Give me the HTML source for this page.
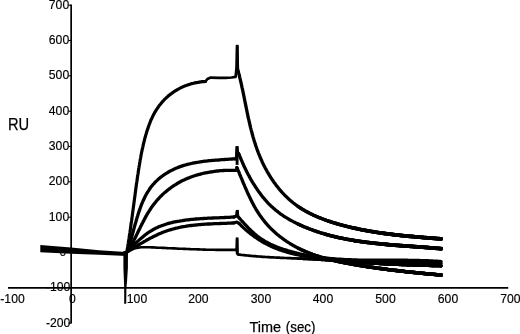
<!DOCTYPE html><html><head><meta charset="utf-8"><title>Sensorgram</title>
<style>html,body{margin:0;padding:0;background:#fff}svg{display:block}text{font-family:"Liberation Sans",sans-serif;fill:#000;stroke:#000;stroke-width:0.15px}</style></head><body>
<svg width="520" height="334" viewBox="0 0 520 334">
<rect width="520" height="334" fill="#fff"/>
<g>
<g stroke="#000" stroke-width="1.7" fill="none">
<path d="M71.15 4.4V323.6"/>
<path d="M8 287.9H508.2"/>
</g>
<g stroke="#000" stroke-width="1.1">
<path d="M68.5 323.2H71.2"/>
<path d="M68.5 287.8H71.2"/>
<path d="M68.5 252.5H71.2"/>
<path d="M68.5 217.2H71.2"/>
<path d="M68.5 181.8H71.2"/>
<path d="M68.5 146.5H71.2"/>
<path d="M68.5 111.2H71.2"/>
<path d="M68.5 75.8H71.2"/>
<path d="M68.5 40.5H71.2"/>
<path d="M68.5 5.2H71.2"/>
</g>
<g font-size="12.2" text-anchor="end">
<text x="70.3" y="326.7">-200</text>
<text x="70.3" y="291.3">-100</text>
<text x="66.3" y="256.0" font-size="12">0</text>
<text x="69.2" y="220.7">100</text>
<text x="69.2" y="185.3">200</text>
<text x="69.2" y="150.0">300</text>
<text x="69.2" y="114.7">400</text>
<text x="69.2" y="79.3">500</text>
<text x="69.2" y="44.0">600</text>
<text x="69.2" y="8.7">700</text>
</g>
<g font-size="12.2" text-anchor="middle">
<text x="12.5" y="303.2">-100</text>
<text x="72.3" y="303.2">0</text>
<text x="137" y="303.2">100</text>
<text x="198.3" y="303.2">200</text>
<text x="261" y="303.2">300</text>
<text x="323" y="303.2">400</text>
<text x="385.5" y="303.2">500</text>
<text x="448" y="303.2">600</text>
<text x="510.3" y="303.2">700</text>
</g>
<text x="8.0" y="129.6" font-size="17.4" textLength="21.2" lengthAdjust="spacingAndGlyphs" style="stroke-width:0.25px">RU</text>
<text y="331.8" font-size="15" style="stroke-width:0.25px"><tspan x="249.5" textLength="31.6" lengthAdjust="spacingAndGlyphs">Time</tspan> <tspan x="285.8" textLength="29.6" lengthAdjust="spacingAndGlyphs">(sec)</tspan></text>
<g stroke="#000" fill="none" stroke-linejoin="round" stroke-linecap="round">
<path stroke-width="3.2" d="M126.8 252.2L127.1 250.7L127.3 249.2L127.5 247.7L127.8 246.2L128.0 244.7L128.3 243.2L128.5 241.7L128.7 240.2L129.0 238.7L129.2 237.2L129.4 235.7L129.6 234.2L129.9 232.7L130.1 231.2L130.3 229.7L130.5 228.2L130.7 226.7L130.9 225.2L131.1 223.7L131.3 222.2L131.6 220.7L131.8 219.2L132.0 217.6L132.2 216.1L132.4 214.6L132.6 213.1L132.8 211.6L133.0 210.1L133.2 208.6L133.4 207.1L133.6 205.6L133.8 204.1L134.0 202.6L134.2 201.1L134.4 199.6L134.6 198.1L134.8 196.6L135.0 195.1L135.2 193.6L135.4 192.0L135.6 190.5L135.8 189.0L136.0 187.5L136.2 186.0L136.4 184.5L136.6 183.0L136.9 181.5L137.1 180.0L137.3 178.5L137.5 177.0L137.7 175.5L138.0 174.0L138.2 172.5L138.4 171.0L138.6 169.5L138.9 168.0L139.1 166.5L139.4 165.0L139.6 163.5L139.9 162.0L140.1 160.5L140.4 159.0L140.7 157.5L140.9 156.0L141.2 154.5L141.5 153.0L141.8 151.5L142.1 150.1L142.4 148.6L142.8 147.1L143.1 145.6L143.4 144.1L143.8 142.6L144.2 141.2L144.5 139.7L144.9 138.2L145.3 136.8L145.7 135.3L146.2 133.8L146.6 132.4L147.0 130.9L147.5 129.5L148.0 128.1L148.5 126.6L149.0 125.2L149.5 123.8L150.1 122.3L150.6 120.9L151.2 119.5L151.9 118.2L152.5 116.8L153.2 115.4L153.9 114.1L154.6 112.7L155.4 111.4L156.2 110.1L157.0 108.9L157.9 107.6L158.7 106.4L159.6 105.1L160.6 104.0L161.6 102.8L162.6 101.6L163.6 100.5L164.6 99.4L165.7 98.4L166.8 97.3L168.0 96.3L169.1 95.3L170.3 94.4L171.5 93.5L172.7 92.6L174.0 91.7L175.3 90.9L176.6 90.1L177.9 89.3L179.2 88.6L180.6 87.9L181.9 87.2L183.3 86.6L184.7 86.0L186.1 85.5L187.6 85.0L189.0 84.5L190.5 84.1L191.9 83.6L193.4 83.3L194.9 82.9L196.4 82.6L197.9 82.4L199.4 82.1L200.9 81.9L202.4 81.7L203.9 81.6L205.4 81.5"/>
<path stroke-width="2.7" d="M205.4 81.5L207.4 79.0L210.8 77.6L219.0 77.9L225.3 77.9L231.6 77.5L235.6 76.8L236.6 67.5L237.2 46.6L237.8 68.0L238.2 71.3"/>
<path stroke-width="3.3" d="M238.2 71.3L238.5 72.3L238.7 73.2L239.0 74.2L239.2 75.2L239.5 76.2L239.7 77.1L239.9 78.1L240.2 79.1L240.4 80.1L240.6 81.0L240.8 82.0L241.1 83.0L241.3 84.0L241.5 85.0L241.7 85.9L241.9 86.9L242.1 87.9L242.4 88.9L242.6 89.9L242.8 90.8L243.0 91.8L243.2 92.8L243.4 93.8L243.6 94.8L243.8 95.8L244.0 96.7L244.2 97.7L244.4 98.7L244.6 99.7L244.8 100.7L245.0 101.7L245.2 102.6L245.4 103.6L245.6 104.6L245.8 105.6L246.0 106.6L246.2 107.6L246.4 108.5L246.6 109.5L246.8 110.5L247.0 111.5L247.2 112.5L247.4 113.5L247.6 114.4L247.8 115.4L248.0 116.4L248.2 117.4L248.4 118.4L248.7 119.3L248.9 120.3L249.1 121.3L249.3 122.3L249.6 123.3L249.8 124.2L250.0 125.2L250.2 126.2L250.5 127.2L250.7 128.1L251.0 129.1L251.2 130.1L251.5 131.1L251.7 132.0L252.0 133.0L252.2 134.0L252.5 134.9L252.8 135.9L253.0 136.9L253.3 137.8L253.6 138.8L253.9 139.8L254.2 140.7L254.5 141.7L254.8 142.6L255.1 143.6L255.4 144.5L255.7 145.5L256.0 146.4L256.4 147.4L256.7 148.3L257.0 149.3L257.4 150.2L257.7 151.2L258.1 152.1L258.4 153.0L258.8 154.0L259.2 154.9L259.6 155.8L260.0 156.8L260.3 157.7L260.7 158.6L261.2 159.5L261.6 160.4L262.0 161.3L262.4 162.3L262.8 163.2L263.3 164.1L263.7 165.0L264.2 165.9L264.6 166.8L265.1 167.7L265.5 168.5L266.0 169.4L266.5 170.3L267.0 171.2L267.5 172.1L268.0 172.9L268.5 173.8L269.0 174.7L269.5 175.5L270.1 176.4L270.6 177.2L271.1 178.1L271.7 178.9L272.2 179.7L272.8 180.6L273.4 181.4L273.9 182.2L274.5 183.0L275.1 183.8L275.7 184.6L276.3 185.4L276.9 186.2L277.6 187.0L278.2 187.8L278.8 188.6L279.5 189.4L280.1 190.1L280.8 190.9L281.4 191.6L282.1 192.4L282.8 193.1L283.5 193.9L284.2 194.6L284.9 195.3L285.6 196.0L286.3 196.7L287.0 197.4L287.7 198.1L288.5 198.8L289.2 199.5L290.0 200.1L290.7 200.8L291.5 201.4L292.3 202.1L293.0 202.7L293.8 203.3L294.6 203.9L295.4 204.5L296.2 205.1L297.0 205.7L297.9 206.3L298.7 206.9L299.5 207.4L300.4 208.0L301.2 208.5L302.1 209.0L302.9 209.6L303.8 210.1L304.7 210.6L305.5 211.1L306.4 211.6L307.3 212.0L308.2 212.5L309.1 213.0L310.0 213.4L310.9 213.9L311.8 214.3L312.7 214.7L313.6 215.2L314.5 215.6L315.4 216.0L316.3 216.4L317.3 216.8L318.2 217.2L319.1 217.6L320.0 217.9L321.0 218.3L321.9 218.7L322.8 219.0L323.8 219.4L324.7 219.7L325.7 220.1L326.6 220.4L327.6 220.7L328.5 221.1L329.5 221.4L330.4 221.7L331.4 222.0L332.3 222.3L333.3 222.6L334.2 222.9L335.2 223.2L336.2 223.5L337.1 223.8L338.1 224.1L339.0 224.3L340.0 224.6L341.0 224.9L342.0 225.1L342.9 225.4L343.9 225.6L344.9 225.9L345.8 226.1L346.8 226.4L347.8 226.6L348.8 226.9L349.7 227.1L350.7 227.3L351.7 227.6L352.7 227.8L353.6 228.0L354.6 228.2L355.6 228.4L356.6 228.6L357.6 228.8L358.6 229.1L359.5 229.3L360.5 229.5L361.5 229.7L362.5 229.8L363.5 230.0L364.5 230.2L365.4 230.4L366.4 230.6L367.4 230.8L368.4 230.9L369.4 231.1L370.4 231.3L371.4 231.5L372.4 231.6L373.4 231.8L374.3 231.9L375.3 232.1L376.3 232.3L377.3 232.4L378.3 232.6L379.3 232.7L380.3 232.9L381.3 233.0L382.3 233.1L383.3 233.3L384.3 233.4L385.3 233.6L386.3 233.7L387.3 233.8L388.2 233.9L389.2 234.1L390.2 234.2L391.2 234.3L392.2 234.4L393.2 234.6L394.2 234.7L395.2 234.8L396.2 234.9L397.2 235.0L398.2 235.1L399.2 235.2L400.2 235.4L401.2 235.5L402.2 235.6L403.2 235.7L404.2 235.8L405.2 235.9L406.2 236.0L407.2 236.1L408.2 236.2L409.2 236.3L410.2 236.4L411.2 236.4L412.2 236.5L413.2 236.6L414.2 236.7L415.2 236.8L416.2 236.9L417.2 237.0L418.2 237.1L419.2 237.2L420.2 237.2L421.2 237.3L422.2 237.4L423.2 237.5L424.2 237.6L425.2 237.7L426.2 237.7L427.2 237.8L428.2 237.9L429.2 238.0L430.2 238.0L431.2 238.1L432.2 238.2L433.2 238.3L434.2 238.4L435.2 238.4L436.2 238.5L437.2 238.6L438.2 238.7L439.2 238.7L440.2 238.8L441.2 238.9"/>
<path stroke-width="3.42" d="M297.9 206.3L298.7 206.9L299.5 207.4L300.4 208.0L301.2 208.5L302.1 209.0L302.9 209.6L303.8 210.1L304.7 210.6L305.5 211.1L306.4 211.6L307.3 212.0L308.2 212.5L309.1 213.0L310.0 213.4L310.9 213.9L311.8 214.3L312.7 214.7L313.6 215.2L314.5 215.6L315.4 216.0L316.3 216.4L317.3 216.8L318.2 217.2L319.1 217.6L320.0 217.9L321.0 218.3L321.9 218.7L322.8 219.0L323.8 219.4L324.7 219.7L325.7 220.1L326.6 220.4L327.6 220.7L328.5 221.1L329.5 221.4L330.4 221.7L331.4 222.0L332.3 222.3L333.3 222.6L334.2 222.9L335.2 223.2L336.2 223.5L337.1 223.8L338.1 224.1L339.0 224.3L340.0 224.6L341.0 224.9L342.0 225.1L342.9 225.4L343.9 225.6L344.9 225.9L345.8 226.1L346.8 226.4L347.8 226.6L348.8 226.9L349.7 227.1L350.7 227.3L351.7 227.6L352.7 227.8L353.6 228.0L354.6 228.2L355.6 228.4L356.6 228.6L357.6 228.8L358.6 229.1L359.5 229.3L360.5 229.5L361.5 229.7L362.5 229.8L363.5 230.0L364.5 230.2L365.4 230.4L366.4 230.6L367.4 230.8L368.4 230.9L369.4 231.1L370.4 231.3L371.4 231.5L372.4 231.6L373.4 231.8L374.3 231.9L375.3 232.1L376.3 232.3L377.3 232.4L378.3 232.6L379.3 232.7L380.3 232.9L381.3 233.0L382.3 233.1L383.3 233.3L384.3 233.4L385.3 233.6L386.3 233.7L387.3 233.8L388.2 233.9L389.2 234.1L390.2 234.2L391.2 234.3L392.2 234.4L393.2 234.6L394.2 234.7L395.2 234.8L396.2 234.9L397.2 235.0L398.2 235.1L399.2 235.2L400.2 235.4L401.2 235.5L402.2 235.6L403.2 235.7L404.2 235.8L405.2 235.9L406.2 236.0L407.2 236.1L408.2 236.2L409.2 236.3L410.2 236.4L411.2 236.4L412.2 236.5L413.2 236.6L414.2 236.7L415.2 236.8L416.2 236.9L417.2 237.0L418.2 237.1L419.2 237.2L420.2 237.2L421.2 237.3L422.2 237.4L423.2 237.5L424.2 237.6L425.2 237.7L426.2 237.7L427.2 237.8L428.2 237.9L429.2 238.0L430.2 238.0L431.2 238.1L432.2 238.2L433.2 238.3L434.2 238.4L435.2 238.4L436.2 238.5L437.2 238.6L438.2 238.7L439.2 238.7L440.2 238.8L441.2 238.9"/>
<path stroke-width="3.55" d="M325.7 220.1L326.6 220.4L327.6 220.7L328.5 221.1L329.5 221.4L330.4 221.7L331.4 222.0L332.3 222.3L333.3 222.6L334.2 222.9L335.2 223.2L336.2 223.5L337.1 223.8L338.1 224.1L339.0 224.3L340.0 224.6L341.0 224.9L342.0 225.1L342.9 225.4L343.9 225.6L344.9 225.9L345.8 226.1L346.8 226.4L347.8 226.6L348.8 226.9L349.7 227.1L350.7 227.3L351.7 227.6L352.7 227.8L353.6 228.0L354.6 228.2L355.6 228.4L356.6 228.6L357.6 228.8L358.6 229.1L359.5 229.3L360.5 229.5L361.5 229.7L362.5 229.8L363.5 230.0L364.5 230.2L365.4 230.4L366.4 230.6L367.4 230.8L368.4 230.9L369.4 231.1L370.4 231.3L371.4 231.5L372.4 231.6L373.4 231.8L374.3 231.9L375.3 232.1L376.3 232.3L377.3 232.4L378.3 232.6L379.3 232.7L380.3 232.9L381.3 233.0L382.3 233.1L383.3 233.3L384.3 233.4L385.3 233.6L386.3 233.7L387.3 233.8L388.2 233.9L389.2 234.1L390.2 234.2L391.2 234.3L392.2 234.4L393.2 234.6L394.2 234.7L395.2 234.8L396.2 234.9L397.2 235.0L398.2 235.1L399.2 235.2L400.2 235.4L401.2 235.5L402.2 235.6L403.2 235.7L404.2 235.8L405.2 235.9L406.2 236.0L407.2 236.1L408.2 236.2L409.2 236.3L410.2 236.4L411.2 236.4L412.2 236.5L413.2 236.6L414.2 236.7L415.2 236.8L416.2 236.9L417.2 237.0L418.2 237.1L419.2 237.2L420.2 237.2L421.2 237.3L422.2 237.4L423.2 237.5L424.2 237.6L425.2 237.7L426.2 237.7L427.2 237.8L428.2 237.9L429.2 238.0L430.2 238.0L431.2 238.1L432.2 238.2L433.2 238.3L434.2 238.4L435.2 238.4L436.2 238.5L437.2 238.6L438.2 238.7L439.2 238.7L440.2 238.8L441.2 238.9"/>
<path stroke-width="3.67" d="M352.7 227.8L353.6 228.0L354.6 228.2L355.6 228.4L356.6 228.6L357.6 228.8L358.6 229.1L359.5 229.3L360.5 229.5L361.5 229.7L362.5 229.8L363.5 230.0L364.5 230.2L365.4 230.4L366.4 230.6L367.4 230.8L368.4 230.9L369.4 231.1L370.4 231.3L371.4 231.5L372.4 231.6L373.4 231.8L374.3 231.9L375.3 232.1L376.3 232.3L377.3 232.4L378.3 232.6L379.3 232.7L380.3 232.9L381.3 233.0L382.3 233.1L383.3 233.3L384.3 233.4L385.3 233.6L386.3 233.7L387.3 233.8L388.2 233.9L389.2 234.1L390.2 234.2L391.2 234.3L392.2 234.4L393.2 234.6L394.2 234.7L395.2 234.8L396.2 234.9L397.2 235.0L398.2 235.1L399.2 235.2L400.2 235.4L401.2 235.5L402.2 235.6L403.2 235.7L404.2 235.8L405.2 235.9L406.2 236.0L407.2 236.1L408.2 236.2L409.2 236.3L410.2 236.4L411.2 236.4L412.2 236.5L413.2 236.6L414.2 236.7L415.2 236.8L416.2 236.9L417.2 237.0L418.2 237.1L419.2 237.2L420.2 237.2L421.2 237.3L422.2 237.4L423.2 237.5L424.2 237.6L425.2 237.7L426.2 237.7L427.2 237.8L428.2 237.9L429.2 238.0L430.2 238.0L431.2 238.1L432.2 238.2L433.2 238.3L434.2 238.4L435.2 238.4L436.2 238.5L437.2 238.6L438.2 238.7L439.2 238.7L440.2 238.8L441.2 238.9"/>
<path stroke-width="3.80" d="M380.3 232.9L381.3 233.0L382.3 233.1L383.3 233.3L384.3 233.4L385.3 233.6L386.3 233.7L387.3 233.8L388.2 233.9L389.2 234.1L390.2 234.2L391.2 234.3L392.2 234.4L393.2 234.6L394.2 234.7L395.2 234.8L396.2 234.9L397.2 235.0L398.2 235.1L399.2 235.2L400.2 235.4L401.2 235.5L402.2 235.6L403.2 235.7L404.2 235.8L405.2 235.9L406.2 236.0L407.2 236.1L408.2 236.2L409.2 236.3L410.2 236.4L411.2 236.4L412.2 236.5L413.2 236.6L414.2 236.7L415.2 236.8L416.2 236.9L417.2 237.0L418.2 237.1L419.2 237.2L420.2 237.2L421.2 237.3L422.2 237.4L423.2 237.5L424.2 237.6L425.2 237.7L426.2 237.7L427.2 237.8L428.2 237.9L429.2 238.0L430.2 238.0L431.2 238.1L432.2 238.2L433.2 238.3L434.2 238.4L435.2 238.4L436.2 238.5L437.2 238.6L438.2 238.7L439.2 238.7L440.2 238.8L441.2 238.9"/>
<path stroke-width="3.3" d="M126.8 252.2L127.3 250.8L127.9 249.3L128.4 247.9L128.9 246.5L129.3 245.0L129.8 243.6L130.2 242.1L130.7 240.6L131.1 239.2L131.5 237.7L131.9 236.2L132.3 234.8L132.7 233.3L133.1 231.8L133.5 230.3L133.9 228.9L134.3 227.4L134.7 225.9L135.1 224.5L135.5 223.0L136.0 221.5L136.4 220.0L136.8 218.6L137.2 217.1L137.7 215.7L138.1 214.2L138.6 212.8L139.1 211.3L139.6 209.9L140.1 208.4L140.6 207.0L141.1 205.6L141.7 204.1L142.3 202.7L142.9 201.3L143.5 199.9L144.2 198.6L144.8 197.2L145.5 195.8L146.2 194.5L147.0 193.2L147.8 191.8L148.6 190.6L149.4 189.3L150.3 188.0L151.2 186.8L152.2 185.6L153.1 184.4L154.2 183.3L155.2 182.2L156.3 181.1L157.4 180.1L158.5 179.0L159.7 178.1L160.9 177.1L162.1 176.2L163.3 175.3L164.6 174.4L165.9 173.6L167.2 172.8L168.5 172.0L169.8 171.3L171.2 170.6L172.5 169.9L173.9 169.2L175.3 168.6L176.7 168.0L178.1 167.4L179.5 166.9L181.0 166.4L182.4 165.9L183.9 165.4L185.3 165.0L186.8 164.6L188.3 164.2L189.8 163.9L191.3 163.5L192.7 163.2L194.2 162.9L195.7 162.6L197.2 162.3L198.7 162.1L200.3 161.8L201.8 161.6L203.3 161.4L204.8 161.2L206.3 161.1L207.8 160.9L209.3 160.7L210.9 160.6L212.4 160.4L213.9 160.3L215.4 160.2L216.9 160.1L218.5 160.0L220.0 159.8L221.5 159.7L223.0 159.6L224.5 159.5L226.1 159.4L227.6 159.3L229.1 159.2L230.6 159.1L232.2 159.0L233.7 158.9L235.2 158.8"/>
<path stroke-width="3.1" d="M235.2 158.8L236.4 158.3L237.0 147.9L237.5 152.0L238.8 153.8"/>
<path stroke-width="3.3" d="M238.8 153.8L239.2 154.7L239.5 155.7L239.9 156.6L240.3 157.5L240.7 158.5L241.1 159.4L241.5 160.3L241.9 161.2L242.3 162.2L242.7 163.1L243.1 164.0L243.5 164.9L243.9 165.8L244.3 166.8L244.8 167.7L245.2 168.6L245.7 169.5L246.1 170.4L246.5 171.3L247.0 172.2L247.5 173.1L247.9 174.0L248.4 174.9L248.9 175.7L249.3 176.6L249.8 177.5L250.3 178.4L250.8 179.3L251.3 180.1L251.8 181.0L252.3 181.9L252.9 182.7L253.4 183.6L253.9 184.4L254.4 185.3L255.0 186.1L255.5 187.0L256.1 187.8L256.7 188.7L257.2 189.5L257.8 190.3L258.4 191.2L259.0 192.0L259.6 192.8L260.2 193.6L260.8 194.4L261.4 195.2L262.0 196.0L262.6 196.8L263.3 197.6L263.9 198.3L264.6 199.1L265.2 199.9L265.9 200.6L266.5 201.4L267.2 202.1L267.9 202.8L268.6 203.6L269.3 204.3L270.0 205.0L270.7 205.7L271.5 206.4L272.2 207.1L273.0 207.8L273.7 208.4L274.5 209.1L275.2 209.7L276.0 210.4L276.8 211.0L277.6 211.6L278.4 212.3L279.2 212.9L280.0 213.5L280.8 214.1L281.6 214.6L282.5 215.2L283.3 215.8L284.1 216.3L285.0 216.9L285.8 217.4L286.7 217.9L287.5 218.4L288.4 219.0L289.3 219.5L290.2 220.0L291.0 220.4L291.9 220.9L292.8 221.4L293.7 221.9L294.6 222.3L295.5 222.8L296.4 223.2L297.3 223.7L298.2 224.1L299.1 224.5L300.0 224.9L301.0 225.4L301.9 225.8L302.8 226.2L303.7 226.6L304.7 227.0L305.6 227.3L306.5 227.7L307.5 228.1L308.4 228.5L309.3 228.8L310.3 229.2L311.2 229.5L312.2 229.9L313.1 230.2L314.0 230.6L315.0 230.9L315.9 231.2L316.9 231.6L317.9 231.9L318.8 232.2L319.8 232.5L320.7 232.8L321.7 233.1L322.7 233.4L323.6 233.7L324.6 234.0L325.6 234.2L326.5 234.5L327.5 234.8L328.5 235.0L329.4 235.3L330.4 235.6L331.4 235.8L332.4 236.1L333.3 236.3L334.3 236.5L335.3 236.8L336.3 237.0L337.3 237.2L338.2 237.5L339.2 237.7L340.2 237.9L341.2 238.1L342.2 238.3L343.2 238.5L344.1 238.7L345.1 238.9L346.1 239.1L347.1 239.3L348.1 239.5L349.1 239.6L350.1 239.8L351.1 240.0L352.1 240.2L353.1 240.3L354.0 240.5L355.0 240.7L356.0 240.8L357.0 241.0L358.0 241.1L359.0 241.3L360.0 241.4L361.0 241.6L362.0 241.7L363.0 241.8L364.0 242.0L365.0 242.1L366.0 242.2L367.0 242.4L368.0 242.5L369.0 242.6L370.0 242.7L371.0 242.9L372.0 243.0L373.0 243.1L374.0 243.2L375.0 243.3L376.0 243.4L377.0 243.5L378.0 243.6L379.0 243.7L380.0 243.8L381.0 243.9L382.0 244.0L383.0 244.1L384.0 244.2L385.0 244.3L386.0 244.4L387.0 244.5L388.0 244.6L389.0 244.7L390.0 244.8L391.0 244.8L392.0 244.9L393.0 245.0L394.0 245.1L395.0 245.2L396.0 245.3L397.0 245.3L398.0 245.4L399.0 245.5L400.1 245.6L401.1 245.6L402.1 245.7L403.1 245.8L404.1 245.9L405.1 245.9L406.1 246.0L407.1 246.1L408.1 246.1L409.1 246.2L410.1 246.3L411.1 246.4L412.1 246.4L413.1 246.5L414.1 246.6L415.1 246.7L416.1 246.7L417.1 246.8L418.1 246.9L419.1 246.9L420.1 247.0L421.1 247.1L422.1 247.2L423.1 247.2L424.1 247.3L425.2 247.4L426.2 247.5L427.2 247.5L428.2 247.6L429.2 247.7L430.2 247.8L431.2 247.8L432.2 247.9L433.2 248.0L434.2 248.1L435.2 248.2L436.2 248.3L437.2 248.3L438.2 248.4L439.2 248.5L440.2 248.6L441.2 248.7"/>
<path stroke-width="3.42" d="M298.2 224.1L299.1 224.5L300.0 224.9L301.0 225.4L301.9 225.8L302.8 226.2L303.7 226.6L304.7 227.0L305.6 227.3L306.5 227.7L307.5 228.1L308.4 228.5L309.3 228.8L310.3 229.2L311.2 229.5L312.2 229.9L313.1 230.2L314.0 230.6L315.0 230.9L315.9 231.2L316.9 231.6L317.9 231.9L318.8 232.2L319.8 232.5L320.7 232.8L321.7 233.1L322.7 233.4L323.6 233.7L324.6 234.0L325.6 234.2L326.5 234.5L327.5 234.8L328.5 235.0L329.4 235.3L330.4 235.6L331.4 235.8L332.4 236.1L333.3 236.3L334.3 236.5L335.3 236.8L336.3 237.0L337.3 237.2L338.2 237.5L339.2 237.7L340.2 237.9L341.2 238.1L342.2 238.3L343.2 238.5L344.1 238.7L345.1 238.9L346.1 239.1L347.1 239.3L348.1 239.5L349.1 239.6L350.1 239.8L351.1 240.0L352.1 240.2L353.1 240.3L354.0 240.5L355.0 240.7L356.0 240.8L357.0 241.0L358.0 241.1L359.0 241.3L360.0 241.4L361.0 241.6L362.0 241.7L363.0 241.8L364.0 242.0L365.0 242.1L366.0 242.2L367.0 242.4L368.0 242.5L369.0 242.6L370.0 242.7L371.0 242.9L372.0 243.0L373.0 243.1L374.0 243.2L375.0 243.3L376.0 243.4L377.0 243.5L378.0 243.6L379.0 243.7L380.0 243.8L381.0 243.9L382.0 244.0L383.0 244.1L384.0 244.2L385.0 244.3L386.0 244.4L387.0 244.5L388.0 244.6L389.0 244.7L390.0 244.8L391.0 244.8L392.0 244.9L393.0 245.0L394.0 245.1L395.0 245.2L396.0 245.3L397.0 245.3L398.0 245.4L399.0 245.5L400.1 245.6L401.1 245.6L402.1 245.7L403.1 245.8L404.1 245.9L405.1 245.9L406.1 246.0L407.1 246.1L408.1 246.1L409.1 246.2L410.1 246.3L411.1 246.4L412.1 246.4L413.1 246.5L414.1 246.6L415.1 246.7L416.1 246.7L417.1 246.8L418.1 246.9L419.1 246.9L420.1 247.0L421.1 247.1L422.1 247.2L423.1 247.2L424.1 247.3L425.2 247.4L426.2 247.5L427.2 247.5L428.2 247.6L429.2 247.7L430.2 247.8L431.2 247.8L432.2 247.9L433.2 248.0L434.2 248.1L435.2 248.2L436.2 248.3L437.2 248.3L438.2 248.4L439.2 248.5L440.2 248.6L441.2 248.7"/>
<path stroke-width="3.55" d="M325.6 234.2L326.5 234.5L327.5 234.8L328.5 235.0L329.4 235.3L330.4 235.6L331.4 235.8L332.4 236.1L333.3 236.3L334.3 236.5L335.3 236.8L336.3 237.0L337.3 237.2L338.2 237.5L339.2 237.7L340.2 237.9L341.2 238.1L342.2 238.3L343.2 238.5L344.1 238.7L345.1 238.9L346.1 239.1L347.1 239.3L348.1 239.5L349.1 239.6L350.1 239.8L351.1 240.0L352.1 240.2L353.1 240.3L354.0 240.5L355.0 240.7L356.0 240.8L357.0 241.0L358.0 241.1L359.0 241.3L360.0 241.4L361.0 241.6L362.0 241.7L363.0 241.8L364.0 242.0L365.0 242.1L366.0 242.2L367.0 242.4L368.0 242.5L369.0 242.6L370.0 242.7L371.0 242.9L372.0 243.0L373.0 243.1L374.0 243.2L375.0 243.3L376.0 243.4L377.0 243.5L378.0 243.6L379.0 243.7L380.0 243.8L381.0 243.9L382.0 244.0L383.0 244.1L384.0 244.2L385.0 244.3L386.0 244.4L387.0 244.5L388.0 244.6L389.0 244.7L390.0 244.8L391.0 244.8L392.0 244.9L393.0 245.0L394.0 245.1L395.0 245.2L396.0 245.3L397.0 245.3L398.0 245.4L399.0 245.5L400.1 245.6L401.1 245.6L402.1 245.7L403.1 245.8L404.1 245.9L405.1 245.9L406.1 246.0L407.1 246.1L408.1 246.1L409.1 246.2L410.1 246.3L411.1 246.4L412.1 246.4L413.1 246.5L414.1 246.6L415.1 246.7L416.1 246.7L417.1 246.8L418.1 246.9L419.1 246.9L420.1 247.0L421.1 247.1L422.1 247.2L423.1 247.2L424.1 247.3L425.2 247.4L426.2 247.5L427.2 247.5L428.2 247.6L429.2 247.7L430.2 247.8L431.2 247.8L432.2 247.9L433.2 248.0L434.2 248.1L435.2 248.2L436.2 248.3L437.2 248.3L438.2 248.4L439.2 248.5L440.2 248.6L441.2 248.7"/>
<path stroke-width="3.67" d="M353.1 240.3L354.0 240.5L355.0 240.7L356.0 240.8L357.0 241.0L358.0 241.1L359.0 241.3L360.0 241.4L361.0 241.6L362.0 241.7L363.0 241.8L364.0 242.0L365.0 242.1L366.0 242.2L367.0 242.4L368.0 242.5L369.0 242.6L370.0 242.7L371.0 242.9L372.0 243.0L373.0 243.1L374.0 243.2L375.0 243.3L376.0 243.4L377.0 243.5L378.0 243.6L379.0 243.7L380.0 243.8L381.0 243.9L382.0 244.0L383.0 244.1L384.0 244.2L385.0 244.3L386.0 244.4L387.0 244.5L388.0 244.6L389.0 244.7L390.0 244.8L391.0 244.8L392.0 244.9L393.0 245.0L394.0 245.1L395.0 245.2L396.0 245.3L397.0 245.3L398.0 245.4L399.0 245.5L400.1 245.6L401.1 245.6L402.1 245.7L403.1 245.8L404.1 245.9L405.1 245.9L406.1 246.0L407.1 246.1L408.1 246.1L409.1 246.2L410.1 246.3L411.1 246.4L412.1 246.4L413.1 246.5L414.1 246.6L415.1 246.7L416.1 246.7L417.1 246.8L418.1 246.9L419.1 246.9L420.1 247.0L421.1 247.1L422.1 247.2L423.1 247.2L424.1 247.3L425.2 247.4L426.2 247.5L427.2 247.5L428.2 247.6L429.2 247.7L430.2 247.8L431.2 247.8L432.2 247.9L433.2 248.0L434.2 248.1L435.2 248.2L436.2 248.3L437.2 248.3L438.2 248.4L439.2 248.5L440.2 248.6L441.2 248.7"/>
<path stroke-width="3.80" d="M381.0 243.9L382.0 244.0L383.0 244.1L384.0 244.2L385.0 244.3L386.0 244.4L387.0 244.5L388.0 244.6L389.0 244.7L390.0 244.8L391.0 244.8L392.0 244.9L393.0 245.0L394.0 245.1L395.0 245.2L396.0 245.3L397.0 245.3L398.0 245.4L399.0 245.5L400.1 245.6L401.1 245.6L402.1 245.7L403.1 245.8L404.1 245.9L405.1 245.9L406.1 246.0L407.1 246.1L408.1 246.1L409.1 246.2L410.1 246.3L411.1 246.4L412.1 246.4L413.1 246.5L414.1 246.6L415.1 246.7L416.1 246.7L417.1 246.8L418.1 246.9L419.1 246.9L420.1 247.0L421.1 247.1L422.1 247.2L423.1 247.2L424.1 247.3L425.2 247.4L426.2 247.5L427.2 247.5L428.2 247.6L429.2 247.7L430.2 247.8L431.2 247.8L432.2 247.9L433.2 248.0L434.2 248.1L435.2 248.2L436.2 248.3L437.2 248.3L438.2 248.4L439.2 248.5L440.2 248.6L441.2 248.7"/>
<path stroke-width="3.3" d="M126.8 252.2L127.7 250.9L128.5 249.7L129.3 248.4L130.1 247.1L130.9 245.8L131.6 244.5L132.4 243.1L133.1 241.8L133.8 240.5L134.5 239.1L135.2 237.8L135.9 236.4L136.5 235.0L137.2 233.7L137.9 232.3L138.5 230.9L139.2 229.6L139.9 228.2L140.5 226.8L141.2 225.5L141.9 224.1L142.6 222.8L143.3 221.4L144.0 220.1L144.7 218.7L145.4 217.4L146.1 216.1L146.9 214.7L147.7 213.4L148.5 212.1L149.3 210.9L150.1 209.6L150.9 208.3L151.8 207.1L152.7 205.8L153.6 204.6L154.5 203.4L155.5 202.2L156.4 201.0L157.4 199.9L158.4 198.8L159.5 197.6L160.5 196.5L161.6 195.5L162.7 194.4L163.8 193.4L164.9 192.4L166.1 191.4L167.3 190.4L168.5 189.5L169.7 188.6L170.9 187.7L172.1 186.8L173.4 185.9L174.7 185.1L176.0 184.3L177.3 183.5L178.6 182.7L179.9 182.0L181.2 181.3L182.6 180.6L184.0 180.0L185.4 179.3L186.7 178.7L188.1 178.1L189.6 177.6L191.0 177.0L192.4 176.5L193.8 176.0L195.3 175.5L196.7 175.1L198.2 174.7L199.7 174.3L201.1 173.9L202.6 173.5L204.1 173.2L205.6 172.9L207.1 172.6L208.6 172.3L210.1 172.0L211.6 171.8L213.1 171.6L214.6 171.4L216.1 171.2L217.6 171.0L219.1 170.9L220.6 170.7L222.1 170.6L223.6 170.5L225.2 170.4L226.7 170.4L228.2 170.3L229.7 170.3L231.2 170.3L232.8 170.3L234.3 170.3L235.8 170.3"/>
<path stroke-width="3.1" d="M235.8 170.3L236.8 170.0L237.1 168.4L236.9 167.6"/>
<path stroke-width="3.3" d="M236.9 167.6L237.3 168.5L237.7 169.4L238.1 170.4L238.5 171.3L238.9 172.2L239.3 173.2L239.6 174.1L240.0 175.0L240.4 175.9L240.8 176.9L241.2 177.8L241.6 178.7L242.0 179.6L242.3 180.6L242.7 181.5L243.1 182.4L243.5 183.4L243.9 184.3L244.3 185.2L244.7 186.1L245.1 187.1L245.5 188.0L245.9 188.9L246.3 189.8L246.7 190.7L247.1 191.7L247.5 192.6L247.9 193.5L248.3 194.4L248.8 195.3L249.2 196.2L249.6 197.1L250.1 198.0L250.5 198.9L250.9 199.9L251.4 200.7L251.8 201.6L252.3 202.5L252.8 203.4L253.2 204.3L253.7 205.2L254.2 206.1L254.7 207.0L255.2 207.8L255.7 208.7L256.2 209.6L256.7 210.4L257.2 211.3L257.8 212.1L258.3 213.0L258.9 213.8L259.4 214.7L260.0 215.5L260.6 216.3L261.2 217.1L261.8 217.9L262.4 218.8L263.0 219.5L263.6 220.3L264.2 221.1L264.8 221.9L265.5 222.7L266.1 223.4L266.8 224.2L267.5 224.9L268.1 225.7L268.8 226.4L269.5 227.2L270.2 227.9L270.9 228.6L271.6 229.3L272.4 230.0L273.1 230.7L273.8 231.4L274.6 232.0L275.3 232.7L276.1 233.4L276.8 234.0L277.6 234.7L278.4 235.3L279.2 236.0L280.0 236.6L280.8 237.2L281.6 237.8L282.4 238.4L283.2 239.0L284.0 239.6L284.8 240.2L285.6 240.7L286.5 241.3L287.3 241.8L288.2 242.4L289.0 242.9L289.9 243.5L290.7 244.0L291.6 244.5L292.4 245.0L293.3 245.5L294.2 246.0L295.1 246.5L296.0 247.0L296.8 247.4L297.7 247.9L298.6 248.4L299.5 248.8L300.4 249.2L301.3 249.7L302.3 250.1L303.2 250.5L304.1 250.9L305.0 251.3L305.9 251.7L306.9 252.1L307.8 252.5L308.7 252.8L309.7 253.2L310.6 253.6L311.5 253.9L312.5 254.3L313.4 254.6L314.4 254.9L315.3 255.3L316.3 255.6L317.2 255.9L318.2 256.2L319.2 256.5L320.1 256.8L321.1 257.1L322.0 257.4L323.0 257.7L324.0 258.0L324.9 258.2L325.9 258.5L326.9 258.8L327.9 259.0L328.8 259.3L329.8 259.5L330.8 259.8L331.8 260.0L332.7 260.2L333.7 260.5L334.7 260.7L335.7 260.9L336.6 261.1L337.6 261.4L338.6 261.6L339.6 261.8L340.6 262.0L341.6 262.2L342.5 262.4L343.5 262.6L344.5 262.8L345.5 263.0L346.5 263.1L347.5 263.3L348.5 263.5L349.5 263.7L350.4 263.9L351.4 264.1L352.4 264.2L353.4 264.4L354.4 264.6L355.4 264.7L356.4 264.9L357.4 265.1L358.4 265.2L359.4 265.4L360.4 265.6L361.3 265.7L362.3 265.9L363.3 266.0L364.3 266.2L365.3 266.3L366.3 266.5L367.3 266.7L368.3 266.8L369.3 267.0L370.3 267.1L371.3 267.2L372.3 267.4L373.3 267.5L374.3 267.7L375.3 267.8L376.3 268.0L377.3 268.1L378.2 268.2L379.2 268.4L380.2 268.5L381.2 268.6L382.2 268.8L383.2 268.9L384.2 269.0L385.2 269.2L386.2 269.3L387.2 269.4L388.2 269.6L389.2 269.7L390.2 269.8L391.2 269.9L392.2 270.1L393.2 270.2L394.2 270.3L395.2 270.4L396.2 270.5L397.2 270.6L398.2 270.8L399.2 270.9L400.2 271.0L401.2 271.1L402.2 271.2L403.2 271.3L404.2 271.4L405.2 271.6L406.2 271.7L407.2 271.8L408.2 271.9L409.2 272.0L410.2 272.1L411.2 272.2L412.2 272.3L413.2 272.4L414.2 272.5L415.2 272.6L416.2 272.7L417.2 272.8L418.2 272.9L419.2 273.0L420.2 273.1L421.2 273.2L422.2 273.3L423.2 273.4L424.2 273.5L425.2 273.6L426.2 273.7L427.2 273.8L428.2 273.9L429.2 273.9L430.2 274.0L431.2 274.1L432.2 274.2L433.2 274.3L434.2 274.4L435.2 274.5L436.2 274.6L437.2 274.7L438.2 274.7L439.2 274.8L440.2 274.9L441.2 275.0"/>
<path stroke-width="3.38" d="M297.7 247.9L298.6 248.4L299.5 248.8L300.4 249.2L301.3 249.7L302.3 250.1L303.2 250.5L304.1 250.9L305.0 251.3L305.9 251.7L306.9 252.1L307.8 252.5L308.7 252.8L309.7 253.2L310.6 253.6L311.5 253.9L312.5 254.3L313.4 254.6L314.4 254.9L315.3 255.3L316.3 255.6L317.2 255.9L318.2 256.2L319.2 256.5L320.1 256.8L321.1 257.1L322.0 257.4L323.0 257.7L324.0 258.0L324.9 258.2L325.9 258.5L326.9 258.8L327.9 259.0L328.8 259.3L329.8 259.5L330.8 259.8L331.8 260.0L332.7 260.2L333.7 260.5L334.7 260.7L335.7 260.9L336.6 261.1L337.6 261.4L338.6 261.6L339.6 261.8L340.6 262.0L341.6 262.2L342.5 262.4L343.5 262.6L344.5 262.8L345.5 263.0L346.5 263.1L347.5 263.3L348.5 263.5L349.5 263.7L350.4 263.9L351.4 264.1L352.4 264.2L353.4 264.4L354.4 264.6L355.4 264.7L356.4 264.9L357.4 265.1L358.4 265.2L359.4 265.4L360.4 265.6L361.3 265.7L362.3 265.9L363.3 266.0L364.3 266.2L365.3 266.3L366.3 266.5L367.3 266.7L368.3 266.8L369.3 267.0L370.3 267.1L371.3 267.2L372.3 267.4L373.3 267.5L374.3 267.7L375.3 267.8L376.3 268.0L377.3 268.1L378.2 268.2L379.2 268.4L380.2 268.5L381.2 268.6L382.2 268.8L383.2 268.9L384.2 269.0L385.2 269.2L386.2 269.3L387.2 269.4L388.2 269.6L389.2 269.7L390.2 269.8L391.2 269.9L392.2 270.1L393.2 270.2L394.2 270.3L395.2 270.4L396.2 270.5L397.2 270.6L398.2 270.8L399.2 270.9L400.2 271.0L401.2 271.1L402.2 271.2L403.2 271.3L404.2 271.4L405.2 271.6L406.2 271.7L407.2 271.8L408.2 271.9L409.2 272.0L410.2 272.1L411.2 272.2L412.2 272.3L413.2 272.4L414.2 272.5L415.2 272.6L416.2 272.7L417.2 272.8L418.2 272.9L419.2 273.0L420.2 273.1L421.2 273.2L422.2 273.3L423.2 273.4L424.2 273.5L425.2 273.6L426.2 273.7L427.2 273.8L428.2 273.9L429.2 273.9L430.2 274.0L431.2 274.1L432.2 274.2L433.2 274.3L434.2 274.4L435.2 274.5L436.2 274.6L437.2 274.7L438.2 274.7L439.2 274.8L440.2 274.9L441.2 275.0"/>
<path stroke-width="3.45" d="M325.9 258.5L326.9 258.8L327.9 259.0L328.8 259.3L329.8 259.5L330.8 259.8L331.8 260.0L332.7 260.2L333.7 260.5L334.7 260.7L335.7 260.9L336.6 261.1L337.6 261.4L338.6 261.6L339.6 261.8L340.6 262.0L341.6 262.2L342.5 262.4L343.5 262.6L344.5 262.8L345.5 263.0L346.5 263.1L347.5 263.3L348.5 263.5L349.5 263.7L350.4 263.9L351.4 264.1L352.4 264.2L353.4 264.4L354.4 264.6L355.4 264.7L356.4 264.9L357.4 265.1L358.4 265.2L359.4 265.4L360.4 265.6L361.3 265.7L362.3 265.9L363.3 266.0L364.3 266.2L365.3 266.3L366.3 266.5L367.3 266.7L368.3 266.8L369.3 267.0L370.3 267.1L371.3 267.2L372.3 267.4L373.3 267.5L374.3 267.7L375.3 267.8L376.3 268.0L377.3 268.1L378.2 268.2L379.2 268.4L380.2 268.5L381.2 268.6L382.2 268.8L383.2 268.9L384.2 269.0L385.2 269.2L386.2 269.3L387.2 269.4L388.2 269.6L389.2 269.7L390.2 269.8L391.2 269.9L392.2 270.1L393.2 270.2L394.2 270.3L395.2 270.4L396.2 270.5L397.2 270.6L398.2 270.8L399.2 270.9L400.2 271.0L401.2 271.1L402.2 271.2L403.2 271.3L404.2 271.4L405.2 271.6L406.2 271.7L407.2 271.8L408.2 271.9L409.2 272.0L410.2 272.1L411.2 272.2L412.2 272.3L413.2 272.4L414.2 272.5L415.2 272.6L416.2 272.7L417.2 272.8L418.2 272.9L419.2 273.0L420.2 273.1L421.2 273.2L422.2 273.3L423.2 273.4L424.2 273.5L425.2 273.6L426.2 273.7L427.2 273.8L428.2 273.9L429.2 273.9L430.2 274.0L431.2 274.1L432.2 274.2L433.2 274.3L434.2 274.4L435.2 274.5L436.2 274.6L437.2 274.7L438.2 274.7L439.2 274.8L440.2 274.9L441.2 275.0"/>
<path stroke-width="3.52" d="M353.4 264.4L354.4 264.6L355.4 264.7L356.4 264.9L357.4 265.1L358.4 265.2L359.4 265.4L360.4 265.6L361.3 265.7L362.3 265.9L363.3 266.0L364.3 266.2L365.3 266.3L366.3 266.5L367.3 266.7L368.3 266.8L369.3 267.0L370.3 267.1L371.3 267.2L372.3 267.4L373.3 267.5L374.3 267.7L375.3 267.8L376.3 268.0L377.3 268.1L378.2 268.2L379.2 268.4L380.2 268.5L381.2 268.6L382.2 268.8L383.2 268.9L384.2 269.0L385.2 269.2L386.2 269.3L387.2 269.4L388.2 269.6L389.2 269.7L390.2 269.8L391.2 269.9L392.2 270.1L393.2 270.2L394.2 270.3L395.2 270.4L396.2 270.5L397.2 270.6L398.2 270.8L399.2 270.9L400.2 271.0L401.2 271.1L402.2 271.2L403.2 271.3L404.2 271.4L405.2 271.6L406.2 271.7L407.2 271.8L408.2 271.9L409.2 272.0L410.2 272.1L411.2 272.2L412.2 272.3L413.2 272.4L414.2 272.5L415.2 272.6L416.2 272.7L417.2 272.8L418.2 272.9L419.2 273.0L420.2 273.1L421.2 273.2L422.2 273.3L423.2 273.4L424.2 273.5L425.2 273.6L426.2 273.7L427.2 273.8L428.2 273.9L429.2 273.9L430.2 274.0L431.2 274.1L432.2 274.2L433.2 274.3L434.2 274.4L435.2 274.5L436.2 274.6L437.2 274.7L438.2 274.7L439.2 274.8L440.2 274.9L441.2 275.0"/>
<path stroke-width="3.60" d="M380.2 268.5L381.2 268.6L382.2 268.8L383.2 268.9L384.2 269.0L385.2 269.2L386.2 269.3L387.2 269.4L388.2 269.6L389.2 269.7L390.2 269.8L391.2 269.9L392.2 270.1L393.2 270.2L394.2 270.3L395.2 270.4L396.2 270.5L397.2 270.6L398.2 270.8L399.2 270.9L400.2 271.0L401.2 271.1L402.2 271.2L403.2 271.3L404.2 271.4L405.2 271.6L406.2 271.7L407.2 271.8L408.2 271.9L409.2 272.0L410.2 272.1L411.2 272.2L412.2 272.3L413.2 272.4L414.2 272.5L415.2 272.6L416.2 272.7L417.2 272.8L418.2 272.9L419.2 273.0L420.2 273.1L421.2 273.2L422.2 273.3L423.2 273.4L424.2 273.5L425.2 273.6L426.2 273.7L427.2 273.8L428.2 273.9L429.2 273.9L430.2 274.0L431.2 274.1L432.2 274.2L433.2 274.3L434.2 274.4L435.2 274.5L436.2 274.6L437.2 274.7L438.2 274.7L439.2 274.8L440.2 274.9L441.2 275.0"/>
<path stroke-width="3.3" d="M126.8 252.2L127.9 251.1L128.9 250.0L130.0 248.9L131.0 247.8L132.1 246.7L133.2 245.7L134.3 244.6L135.4 243.5L136.4 242.5L137.6 241.4L138.7 240.4L139.8 239.4L140.9 238.4L142.1 237.4L143.3 236.4L144.5 235.4L145.7 234.5L146.9 233.6L148.1 232.7L149.4 231.9L150.7 231.1L152.0 230.3L153.3 229.5L154.7 228.8L156.0 228.1L157.4 227.5L158.8 226.8L160.2 226.2L161.6 225.7L163.0 225.2L164.5 224.7L165.9 224.2L167.4 223.7L168.8 223.3L170.3 222.9L171.8 222.6L173.3 222.2L174.8 221.9L176.3 221.6L177.8 221.3L179.3 221.1L180.8 220.8L182.3 220.6L183.8 220.3L185.3 220.1L186.8 219.9L188.3 219.8L189.8 219.6L191.3 219.4L192.8 219.3L194.4 219.1L195.9 219.0L197.4 218.9L198.9 218.8L200.4 218.7L202.0 218.6L203.5 218.5L205.0 218.4L206.5 218.3L208.0 218.2L209.6 218.2L211.1 218.1L212.6 218.0L214.1 217.9L215.6 217.9L217.2 217.8L218.7 217.8L220.2 217.7L221.7 217.6L223.3 217.6L224.8 217.5L226.3 217.4L227.8 217.3L229.3 217.3L230.9 217.2L232.4 217.1L233.9 217.0"/>
<path stroke-width="3.1" d="M233.9 217.0L236.5 216.0L237.2 211.8L237.8 216.0L239.0 217.8"/>
<path stroke-width="3.2" d="M239.0 217.8L239.7 218.5L240.4 219.3L241.0 220.0L241.7 220.8L242.4 221.5L243.1 222.2L243.8 223.0L244.4 223.7L245.1 224.5L245.8 225.2L246.5 225.9L247.2 226.6L247.9 227.4L248.6 228.1L249.3 228.8L250.0 229.5L250.7 230.2L251.5 230.9L252.2 231.6L252.9 232.3L253.7 232.9L254.4 233.6L255.2 234.3L256.0 234.9L256.8 235.6L257.5 236.2L258.3 236.8L259.1 237.4L260.0 238.0L260.8 238.6L261.6 239.1L262.4 239.7L263.3 240.2L264.2 240.7L265.0 241.3L265.9 241.8L266.8 242.2L267.7 242.7L268.6 243.2L269.5 243.6L270.4 244.1L271.3 244.5L272.2 244.9L273.1 245.3L274.0 245.7L274.9 246.1L275.9 246.5L276.8 246.9L277.7 247.2L278.7 247.6L279.6 247.9L280.6 248.3L281.5 248.6L282.5 248.9L283.4 249.2L284.4 249.5L285.4 249.8L286.3 250.1L287.3 250.4L288.2 250.7L289.2 251.0L290.2 251.3L291.1 251.6L292.1 251.8L293.1 252.1L294.0 252.3L295.0 252.6L296.0 252.8L297.0 253.1L298.0 253.3L298.9 253.5L299.9 253.8L300.9 254.0L301.9 254.2L302.9 254.4L303.8 254.6L304.8 254.8L305.8 255.0L306.8 255.2L307.8 255.4L308.8 255.5L309.8 255.7L310.8 255.9L311.8 256.1L312.7 256.2L313.7 256.4L314.7 256.5L315.7 256.7L316.7 256.8L317.7 257.0L318.7 257.1L319.7 257.2L320.7 257.4L321.7 257.5L322.7 257.6L323.7 257.7L324.7 257.8L325.7 258.0L326.7 258.1L327.7 258.2L328.7 258.3L329.7 258.4L330.7 258.5L331.7 258.6L332.7 258.6L333.7 258.7L334.7 258.8L335.7 258.9L336.7 259.0L337.7 259.0L338.7 259.1L339.7 259.2L340.7 259.2L341.7 259.3L342.7 259.4L343.7 259.4L344.7 259.5L345.7 259.5L346.7 259.6L347.7 259.6L348.7 259.6L349.8 259.7L350.8 259.7L351.8 259.8L352.8 259.8L353.8 259.8L354.8 259.9L355.8 259.9L356.8 259.9L357.8 260.0L358.8 260.0L359.8 260.0L360.8 260.0L361.8 260.0L362.8 260.1L363.8 260.1L364.8 260.1L365.8 260.1L366.8 260.1L367.8 260.1L368.8 260.1L369.9 260.2L370.9 260.2L371.9 260.2L372.9 260.2L373.9 260.2L374.9 260.2L375.9 260.2L376.9 260.2L377.9 260.2L378.9 260.2L379.9 260.2L380.9 260.2L381.9 260.2L382.9 260.2L383.9 260.2L384.9 260.2L385.9 260.2L386.9 260.2L387.9 260.2L389.0 260.2L390.0 260.2L391.0 260.2L392.0 260.2L393.0 260.2L394.0 260.2L395.0 260.2L396.0 260.2L397.0 260.2L398.0 260.2L399.0 260.2L400.0 260.2L401.0 260.2L402.0 260.2L403.0 260.2L404.0 260.2L405.0 260.2L406.0 260.2L407.0 260.2L408.1 260.3L409.1 260.3L410.1 260.3L411.1 260.3L412.1 260.3L413.1 260.3L414.1 260.3L415.1 260.4L416.1 260.4L417.1 260.4L418.1 260.4L419.1 260.4L420.1 260.5L421.1 260.5L422.1 260.5L423.1 260.5L424.1 260.6L425.1 260.6L426.1 260.7L427.1 260.7L428.2 260.7L429.2 260.8L430.2 260.8L431.2 260.9L432.2 260.9L433.2 261.0L434.2 261.0L435.2 261.1L436.2 261.2L437.2 261.2L438.2 261.3L439.2 261.4L440.2 261.4L441.2 261.5"/>
<path stroke-width="3.3" d="M126.8 252.2L128.1 251.4L129.4 250.6L130.7 249.8L132.0 249.0L133.3 248.2L134.6 247.4L135.9 246.6L137.2 245.8L138.5 245.0L139.8 244.2L141.1 243.4L142.5 242.6L143.8 241.8L145.1 241.1L146.4 240.3L147.8 239.6L149.1 238.8L150.5 238.1L151.8 237.4L153.2 236.7L154.6 236.0L155.9 235.4L157.3 234.7L158.7 234.1L160.1 233.5L161.5 232.9L163.0 232.3L164.4 231.8L165.8 231.3L167.3 230.8L168.7 230.3L170.2 229.8L171.7 229.4L173.1 229.0L174.6 228.6L176.1 228.2L177.6 227.9L179.1 227.5L180.6 227.2L182.1 226.9L183.6 226.6L185.1 226.4L186.6 226.1L188.1 225.9L189.6 225.7L191.1 225.5L192.7 225.3L194.2 225.1L195.7 225.0L197.2 224.8L198.8 224.7L200.3 224.6L201.8 224.4L203.3 224.3L204.9 224.2L206.4 224.1L207.9 224.0L209.4 224.0L211.0 223.9L212.5 223.8L214.0 223.7L215.6 223.7L217.1 223.6L218.6 223.6L220.1 223.5L221.7 223.4L223.2 223.4L224.7 223.3L226.3 223.3L227.8 223.2L229.3 223.1L230.8 223.1L232.4 223.0L233.9 222.9"/>
<path stroke-width="3.1" d="M233.9 222.9L236.8 222.0L239.0 223.3"/>
<path stroke-width="3.2" d="M239.0 223.3L239.7 224.0L240.4 224.7L241.1 225.5L241.8 226.2L242.6 226.9L243.3 227.6L244.0 228.2L244.8 228.9L245.5 229.6L246.3 230.3L247.1 230.9L247.8 231.6L248.6 232.2L249.4 232.8L250.2 233.5L251.0 234.1L251.8 234.7L252.6 235.3L253.4 235.9L254.2 236.5L255.0 237.1L255.9 237.7L256.7 238.2L257.5 238.8L258.4 239.3L259.2 239.9L260.1 240.4L260.9 240.9L261.8 241.5L262.7 242.0L263.5 242.5L264.4 243.0L265.3 243.4L266.2 243.9L267.1 244.4L268.0 244.8L268.9 245.3L269.8 245.7L270.7 246.2L271.6 246.6L272.5 247.0L273.5 247.4L274.4 247.8L275.3 248.2L276.3 248.6L277.2 248.9L278.1 249.3L279.1 249.6L280.0 250.0L281.0 250.3L281.9 250.6L282.9 250.9L283.9 251.2L284.8 251.5L285.8 251.8L286.8 252.1L287.7 252.4L288.7 252.7L289.7 252.9L290.6 253.2L291.6 253.5L292.6 253.7L293.6 253.9L294.6 254.2L295.5 254.4L296.5 254.6L297.5 254.8L298.5 255.0L299.5 255.2L300.5 255.4L301.5 255.6L302.4 255.8L303.4 256.0L304.4 256.2L305.4 256.4L306.4 256.5L307.4 256.7L308.4 256.9L309.4 257.0L310.4 257.2L311.4 257.3L312.4 257.5L313.4 257.6L314.4 257.8L315.4 257.9L316.4 258.1L317.4 258.2L318.4 258.3L319.4 258.4L320.4 258.6L321.4 258.7L322.4 258.8L323.4 258.9L324.4 259.0L325.4 259.1L326.4 259.2L327.4 259.4L328.4 259.5L329.4 259.6L330.4 259.6L331.4 259.7L332.4 259.8L333.4 259.9L334.4 260.0L335.4 260.1L336.4 260.2L337.4 260.2L338.4 260.3L339.4 260.4L340.5 260.5L341.5 260.5L342.5 260.6L343.5 260.7L344.5 260.7L345.5 260.8L346.5 260.8L347.5 260.9L348.5 261.0L349.5 261.0L350.5 261.1L351.5 261.1L352.5 261.2L353.5 261.2L354.5 261.2L355.6 261.3L356.6 261.3L357.6 261.4L358.6 261.4L359.6 261.4L360.6 261.5L361.6 261.5L362.6 261.5L363.6 261.6L364.6 261.6L365.6 261.6L366.6 261.7L367.6 261.7L368.7 261.7L369.7 261.7L370.7 261.8L371.7 261.8L372.7 261.8L373.7 261.8L374.7 261.9L375.7 261.9L376.7 261.9L377.7 261.9L378.7 261.9L379.7 261.9L380.7 262.0L381.8 262.0L382.8 262.0L383.8 262.0L384.8 262.0L385.8 262.0L386.8 262.1L387.8 262.1L388.8 262.1L389.8 262.1L390.8 262.1L391.8 262.1L392.8 262.1L393.8 262.2L394.9 262.2L395.9 262.2L396.9 262.2L397.9 262.2L398.9 262.2L399.9 262.2L400.9 262.3L401.9 262.3L402.9 262.3L403.9 262.3L404.9 262.3L405.9 262.4L407.0 262.4L408.0 262.4L409.0 262.4L410.0 262.4L411.0 262.5L412.0 262.5L413.0 262.5L414.0 262.5L415.0 262.6L416.0 262.6L417.0 262.6L418.0 262.6L419.0 262.7L420.1 262.7L421.1 262.7L422.1 262.8L423.1 262.8L424.1 262.8L425.1 262.9L426.1 262.9L427.1 262.9L428.1 263.0L429.1 263.0L430.1 263.1L431.1 263.1L432.1 263.2L433.1 263.2L434.2 263.3L435.2 263.3L436.2 263.4L437.2 263.4L438.2 263.5L439.2 263.6L440.2 263.6L441.2 263.7"/>
<path stroke-width="2.6" d="M126.8 252.2L128.1 251.3L129.4 250.6L130.7 249.9L132.1 249.3L133.6 248.8L135.0 248.3L136.5 248.0L138.0 247.7L139.5 247.5L141.0 247.3L142.6 247.2L144.1 247.2L145.6 247.2L147.1 247.2L148.7 247.2L150.2 247.3L151.7 247.4L153.2 247.4L154.7 247.5L156.3 247.6L157.8 247.7L159.3 247.7L160.8 247.8L162.4 247.9L163.9 247.9L165.4 248.0L166.9 248.1L168.5 248.2L170.0 248.2L171.5 248.3L173.0 248.4L174.5 248.4L176.1 248.5L177.6 248.6L179.1 248.7L180.6 248.7L182.2 248.8L183.7 248.9L185.2 248.9L186.7 249.0L188.3 249.0L189.8 249.1L191.3 249.2L192.8 249.2L194.3 249.3L195.9 249.3L197.4 249.4L198.9 249.4L200.4 249.5L202.0 249.5L203.5 249.6L205.0 249.6L206.5 249.7L208.1 249.7L209.6 249.7L211.1 249.8L212.6 249.8L214.2 249.8L215.7 249.9L217.2 249.9L218.7 249.9L220.3 249.9L221.8 249.9L223.3 249.9L224.8 249.9L226.4 249.9L227.9 249.9L229.4 249.9L230.9 249.9L232.5 249.9L234.0 249.9L235.5 249.9"/>
<path stroke-width="2.6" d="M235.5 249.9L236.7 249.5L237.1 239.2L237.5 254.3L238.3 254.5"/>
<path stroke-width="2.7" d="M238.3 254.5L239.3 254.6L240.3 254.7L241.3 254.9L242.3 255.0L243.3 255.1L244.3 255.2L245.3 255.3L246.3 255.4L247.3 255.5L248.3 255.6L249.3 255.7L250.3 255.8L251.3 255.9L252.3 256.0L253.3 256.1L254.3 256.1L255.3 256.2L256.3 256.3L257.3 256.4L258.3 256.5L259.3 256.5L260.3 256.6L261.3 256.7L262.3 256.8L263.3 256.8L264.4 256.9L265.4 257.0L266.4 257.0L267.4 257.1L268.4 257.1L269.4 257.2L270.4 257.3L271.4 257.3L272.4 257.4L273.4 257.4L274.4 257.5L275.4 257.5L276.4 257.6L277.4 257.6L278.4 257.7L279.4 257.7L280.4 257.8L281.4 257.8L282.4 257.9L283.4 257.9L284.4 258.0L285.5 258.0L286.5 258.0L287.5 258.1L288.5 258.1L289.5 258.2L290.5 258.2L291.5 258.3L292.5 258.3L293.5 258.4L294.5 258.4L295.5 258.4L296.5 258.5L297.5 258.5L298.5 258.6L299.5 258.6L300.5 258.7L301.5 258.7L302.5 258.7L303.5 258.8L304.6 258.8L305.6 258.9L306.6 258.9L307.6 259.0L308.6 259.0L309.6 259.1L310.6 259.1L311.6 259.2L312.6 259.2L313.6 259.3L314.6 259.3L315.6 259.4L316.6 259.5L317.6 259.5L318.6 259.6L319.6 259.6L320.6 259.7L321.6 259.8L322.6 259.8L323.6 259.9L324.6 260.0L325.7 260.0L326.7 260.1L327.7 260.2L328.7 260.2L329.7 260.3L330.7 260.4L331.7 260.5L332.7 260.5L333.7 260.6L334.7 260.7L335.7 260.8L336.7 260.8L337.7 260.9L338.7 261.0L339.7 261.1L340.7 261.2L341.7 261.2L342.7 261.3L343.7 261.4L344.7 261.5L345.7 261.5L346.7 261.6L347.7 261.7L348.7 261.8L349.7 261.9L350.7 261.9L351.7 262.0L352.7 262.1L353.7 262.2L354.8 262.2L355.8 262.3L356.8 262.4L357.8 262.4L358.8 262.5L359.8 262.6L360.8 262.7L361.8 262.7L362.8 262.8L363.8 262.9L364.8 262.9L365.8 263.0L366.8 263.0L367.8 263.1L368.8 263.2L369.8 263.2L370.8 263.3L371.8 263.3L372.8 263.4L373.8 263.5L374.8 263.5L375.8 263.6L376.8 263.6L377.8 263.7L378.9 263.7L379.9 263.8L380.9 263.8L381.9 263.9L382.9 263.9L383.9 264.0L384.9 264.0L385.9 264.1L386.9 264.1L387.9 264.2L388.9 264.2L389.9 264.3L390.9 264.3L391.9 264.4L392.9 264.4L393.9 264.4L394.9 264.5L395.9 264.5L396.9 264.6L398.0 264.6L399.0 264.7L400.0 264.7L401.0 264.7L402.0 264.8L403.0 264.8L404.0 264.8L405.0 264.9L406.0 264.9L407.0 265.0L408.0 265.0L409.0 265.0L410.0 265.1L411.0 265.1L412.0 265.1L413.0 265.2L414.0 265.2L415.0 265.2L416.1 265.3L417.1 265.3L418.1 265.3L419.1 265.4L420.1 265.4L421.1 265.4L422.1 265.5L423.1 265.5L424.1 265.5L425.1 265.5L426.1 265.6L427.1 265.6L428.1 265.6L429.1 265.7L430.1 265.7L431.1 265.7L432.1 265.8L433.2 265.8L434.2 265.8L435.2 265.8L436.2 265.9L437.2 265.9L438.2 265.9L439.2 265.9L440.2 266.0L441.2 266.0"/>
<path stroke-width="2.75" d="M297.5 258.5L298.5 258.6L299.5 258.6L300.5 258.7L301.5 258.7L302.5 258.7L303.5 258.8L304.6 258.8L305.6 258.9L306.6 258.9L307.6 259.0L308.6 259.0L309.6 259.1L310.6 259.1L311.6 259.2L312.6 259.2L313.6 259.3L314.6 259.3L315.6 259.4L316.6 259.5L317.6 259.5L318.6 259.6L319.6 259.6L320.6 259.7L321.6 259.8L322.6 259.8L323.6 259.9L324.6 260.0L325.7 260.0L326.7 260.1L327.7 260.2L328.7 260.2L329.7 260.3L330.7 260.4L331.7 260.5L332.7 260.5L333.7 260.6L334.7 260.7L335.7 260.8L336.7 260.8L337.7 260.9L338.7 261.0L339.7 261.1L340.7 261.2L341.7 261.2L342.7 261.3L343.7 261.4L344.7 261.5L345.7 261.5L346.7 261.6L347.7 261.7L348.7 261.8L349.7 261.9L350.7 261.9L351.7 262.0L352.7 262.1L353.7 262.2L354.8 262.2L355.8 262.3L356.8 262.4L357.8 262.4L358.8 262.5L359.8 262.6L360.8 262.7L361.8 262.7L362.8 262.8L363.8 262.9L364.8 262.9L365.8 263.0L366.8 263.0L367.8 263.1L368.8 263.2L369.8 263.2L370.8 263.3L371.8 263.3L372.8 263.4L373.8 263.5L374.8 263.5L375.8 263.6L376.8 263.6L377.8 263.7L378.9 263.7L379.9 263.8L380.9 263.8L381.9 263.9L382.9 263.9L383.9 264.0L384.9 264.0L385.9 264.1L386.9 264.1L387.9 264.2L388.9 264.2L389.9 264.3L390.9 264.3L391.9 264.4L392.9 264.4L393.9 264.4L394.9 264.5L395.9 264.5L396.9 264.6L398.0 264.6L399.0 264.7L400.0 264.7L401.0 264.7L402.0 264.8L403.0 264.8L404.0 264.8L405.0 264.9L406.0 264.9L407.0 265.0L408.0 265.0L409.0 265.0L410.0 265.1L411.0 265.1L412.0 265.1L413.0 265.2L414.0 265.2L415.0 265.2L416.1 265.3L417.1 265.3L418.1 265.3L419.1 265.4L420.1 265.4L421.1 265.4L422.1 265.5L423.1 265.5L424.1 265.5L425.1 265.5L426.1 265.6L427.1 265.6L428.1 265.6L429.1 265.7L430.1 265.7L431.1 265.7L432.1 265.8L433.2 265.8L434.2 265.8L435.2 265.8L436.2 265.9L437.2 265.9L438.2 265.9L439.2 265.9L440.2 266.0L441.2 266.0"/>
<path stroke-width="2.80" d="M325.7 260.0L326.7 260.1L327.7 260.2L328.7 260.2L329.7 260.3L330.7 260.4L331.7 260.5L332.7 260.5L333.7 260.6L334.7 260.7L335.7 260.8L336.7 260.8L337.7 260.9L338.7 261.0L339.7 261.1L340.7 261.2L341.7 261.2L342.7 261.3L343.7 261.4L344.7 261.5L345.7 261.5L346.7 261.6L347.7 261.7L348.7 261.8L349.7 261.9L350.7 261.9L351.7 262.0L352.7 262.1L353.7 262.2L354.8 262.2L355.8 262.3L356.8 262.4L357.8 262.4L358.8 262.5L359.8 262.6L360.8 262.7L361.8 262.7L362.8 262.8L363.8 262.9L364.8 262.9L365.8 263.0L366.8 263.0L367.8 263.1L368.8 263.2L369.8 263.2L370.8 263.3L371.8 263.3L372.8 263.4L373.8 263.5L374.8 263.5L375.8 263.6L376.8 263.6L377.8 263.7L378.9 263.7L379.9 263.8L380.9 263.8L381.9 263.9L382.9 263.9L383.9 264.0L384.9 264.0L385.9 264.1L386.9 264.1L387.9 264.2L388.9 264.2L389.9 264.3L390.9 264.3L391.9 264.4L392.9 264.4L393.9 264.4L394.9 264.5L395.9 264.5L396.9 264.6L398.0 264.6L399.0 264.7L400.0 264.7L401.0 264.7L402.0 264.8L403.0 264.8L404.0 264.8L405.0 264.9L406.0 264.9L407.0 265.0L408.0 265.0L409.0 265.0L410.0 265.1L411.0 265.1L412.0 265.1L413.0 265.2L414.0 265.2L415.0 265.2L416.1 265.3L417.1 265.3L418.1 265.3L419.1 265.4L420.1 265.4L421.1 265.4L422.1 265.5L423.1 265.5L424.1 265.5L425.1 265.5L426.1 265.6L427.1 265.6L428.1 265.6L429.1 265.7L430.1 265.7L431.1 265.7L432.1 265.8L433.2 265.8L434.2 265.8L435.2 265.8L436.2 265.9L437.2 265.9L438.2 265.9L439.2 265.9L440.2 266.0L441.2 266.0"/>
<path stroke-width="2.85" d="M352.7 262.1L353.7 262.2L354.8 262.2L355.8 262.3L356.8 262.4L357.8 262.4L358.8 262.5L359.8 262.6L360.8 262.7L361.8 262.7L362.8 262.8L363.8 262.9L364.8 262.9L365.8 263.0L366.8 263.0L367.8 263.1L368.8 263.2L369.8 263.2L370.8 263.3L371.8 263.3L372.8 263.4L373.8 263.5L374.8 263.5L375.8 263.6L376.8 263.6L377.8 263.7L378.9 263.7L379.9 263.8L380.9 263.8L381.9 263.9L382.9 263.9L383.9 264.0L384.9 264.0L385.9 264.1L386.9 264.1L387.9 264.2L388.9 264.2L389.9 264.3L390.9 264.3L391.9 264.4L392.9 264.4L393.9 264.4L394.9 264.5L395.9 264.5L396.9 264.6L398.0 264.6L399.0 264.7L400.0 264.7L401.0 264.7L402.0 264.8L403.0 264.8L404.0 264.8L405.0 264.9L406.0 264.9L407.0 265.0L408.0 265.0L409.0 265.0L410.0 265.1L411.0 265.1L412.0 265.1L413.0 265.2L414.0 265.2L415.0 265.2L416.1 265.3L417.1 265.3L418.1 265.3L419.1 265.4L420.1 265.4L421.1 265.4L422.1 265.5L423.1 265.5L424.1 265.5L425.1 265.5L426.1 265.6L427.1 265.6L428.1 265.6L429.1 265.7L430.1 265.7L431.1 265.7L432.1 265.8L433.2 265.8L434.2 265.8L435.2 265.8L436.2 265.9L437.2 265.9L438.2 265.9L439.2 265.9L440.2 266.0L441.2 266.0"/>
<path stroke-width="2.90" d="M380.9 263.8L381.9 263.9L382.9 263.9L383.9 264.0L384.9 264.0L385.9 264.1L386.9 264.1L387.9 264.2L388.9 264.2L389.9 264.3L390.9 264.3L391.9 264.4L392.9 264.4L393.9 264.4L394.9 264.5L395.9 264.5L396.9 264.6L398.0 264.6L399.0 264.7L400.0 264.7L401.0 264.7L402.0 264.8L403.0 264.8L404.0 264.8L405.0 264.9L406.0 264.9L407.0 265.0L408.0 265.0L409.0 265.0L410.0 265.1L411.0 265.1L412.0 265.1L413.0 265.2L414.0 265.2L415.0 265.2L416.1 265.3L417.1 265.3L418.1 265.3L419.1 265.4L420.1 265.4L421.1 265.4L422.1 265.5L423.1 265.5L424.1 265.5L425.1 265.5L426.1 265.6L427.1 265.6L428.1 265.6L429.1 265.7L430.1 265.7L431.1 265.7L432.1 265.8L433.2 265.8L434.2 265.8L435.2 265.8L436.2 265.9L437.2 265.9L438.2 265.9L439.2 265.9L440.2 266.0L441.2 266.0"/>
</g>
<path fill="#000" d="M322.7 257.6L323.7 257.7L324.7 257.8L325.7 258.0L326.7 258.1L327.7 258.2L328.7 258.3L329.7 258.4L330.7 258.5L331.7 258.6L332.7 258.6L333.7 258.7L334.7 258.8L335.7 258.9L336.7 259.0L337.7 259.0L338.7 259.1L339.7 259.2L340.7 259.2L341.7 259.3L342.7 259.4L343.7 259.4L344.7 259.5L345.7 259.5L346.7 259.6L347.7 259.6L348.7 259.6L349.8 259.7L350.8 259.7L351.8 259.8L352.8 259.8L353.8 259.8L354.8 259.9L355.8 259.9L356.8 259.9L357.8 260.0L358.8 260.0L359.8 260.0L360.8 260.0L361.8 260.0L362.8 260.1L363.8 260.1L364.8 260.1L365.8 260.1L366.8 260.1L367.8 260.1L368.8 260.1L369.9 260.2L370.9 260.2L371.9 260.2L372.9 260.2L373.9 260.2L374.9 260.2L375.9 260.2L376.9 260.2L377.9 260.2L378.9 260.2L379.9 260.2L380.9 260.2L381.9 260.2L382.9 260.2L383.9 260.2L384.9 260.2L385.9 260.2L386.9 260.2L387.9 260.2L389.0 260.2L390.0 260.2L391.0 260.2L392.0 260.2L393.0 260.2L394.0 260.2L395.0 260.2L396.0 260.2L397.0 260.2L398.0 260.2L399.0 260.2L400.0 260.2L401.0 260.2L402.0 260.2L403.0 260.2L404.0 260.2L405.0 260.2L406.0 260.2L407.0 260.2L408.1 260.3L409.1 260.3L410.1 260.3L411.1 260.3L412.1 260.3L413.1 260.3L414.1 260.3L415.1 260.4L416.1 260.4L417.1 260.4L418.1 260.4L419.1 260.4L420.1 260.5L421.1 260.5L422.1 260.5L423.1 260.5L424.1 260.6L425.1 260.6L426.1 260.7L427.1 260.7L428.2 260.7L429.2 260.8L430.2 260.8L431.2 260.9L432.2 260.9L433.2 261.0L434.2 261.0L435.2 261.1L436.2 261.2L437.2 261.2L438.2 261.3L439.2 261.4L440.2 261.4L441.2 261.5L441.2 266.0L440.2 266.0L439.2 265.9L438.2 265.9L437.2 265.9L436.2 265.9L435.2 265.8L434.2 265.8L433.2 265.8L432.1 265.8L431.1 265.7L430.1 265.7L429.1 265.7L428.1 265.6L427.1 265.6L426.1 265.6L425.1 265.5L424.1 265.5L423.1 265.5L422.1 265.5L421.1 265.4L420.1 265.4L419.1 265.4L418.1 265.3L417.1 265.3L416.1 265.3L415.0 265.2L414.0 265.2L413.0 265.2L412.0 265.1L411.0 265.1L410.0 265.1L409.0 265.0L408.0 265.0L407.0 265.0L406.0 264.9L405.0 264.9L404.0 264.8L403.0 264.8L402.0 264.8L401.0 264.7L400.0 264.7L399.0 264.7L398.0 264.6L396.9 264.6L395.9 264.5L394.9 264.5L393.9 264.4L392.9 264.4L391.9 264.4L390.9 264.3L389.9 264.3L388.9 264.2L387.9 264.2L386.9 264.1L385.9 264.1L384.9 264.0L383.9 264.0L382.9 263.9L381.9 263.9L380.9 263.8L379.9 263.8L378.9 263.7L377.8 263.7L376.8 263.6L375.8 263.6L374.8 263.5L373.8 263.5L372.8 263.4L371.8 263.3L370.8 263.3L369.8 263.2L368.8 263.2L367.8 263.1L366.8 263.0L365.8 263.0L364.8 262.9L363.8 262.9L362.8 262.8L361.8 262.7L360.8 262.7L359.8 262.6L358.8 262.5L357.8 262.4L356.8 262.4L355.8 262.3L354.8 262.2L353.7 262.2L352.7 262.1L351.7 262.0L350.7 261.9L349.7 261.9L348.7 261.8L347.7 261.7L346.7 261.6L345.7 261.5L344.7 261.5L343.7 261.4L342.7 261.3L341.7 261.2L340.7 261.2L339.7 261.1L338.7 261.0L337.7 260.9L336.7 260.8L335.7 260.8L334.7 260.7L333.7 260.6L332.7 260.5L331.7 260.5L330.7 260.4L329.7 260.3L328.7 260.2L327.7 260.2L326.7 260.1L325.7 260.0L324.6 260.0L323.6 259.9L322.6 259.8Z"/>
<g stroke="#000" fill="none" stroke-linecap="butt">
<path d="M237.2 44.8V74" stroke-width="2.9"/>
<path d="M237.1 146V164.9" stroke-width="2.9"/>
<path d="M237.3 209.9V217" stroke-width="3.0"/>
<path d="M237.1 237.4V254" stroke-width="2.7"/>
</g>
<path d="M123.4 251 L128 251 L127.9 268 L127.1 280.6 L126.4 288 L126.2 303.8 L124.2 303.8 L124.2 288 L123.9 280.6 L123.4 268Z" fill="#000"/>
<path d="M40.3 245 L71 247.5 L99 250.2 L126 252 L127 256 L99 254.8 L71 253.8 L40.3 252.2Z" fill="#000"/>
</g>
</svg></body></html>
